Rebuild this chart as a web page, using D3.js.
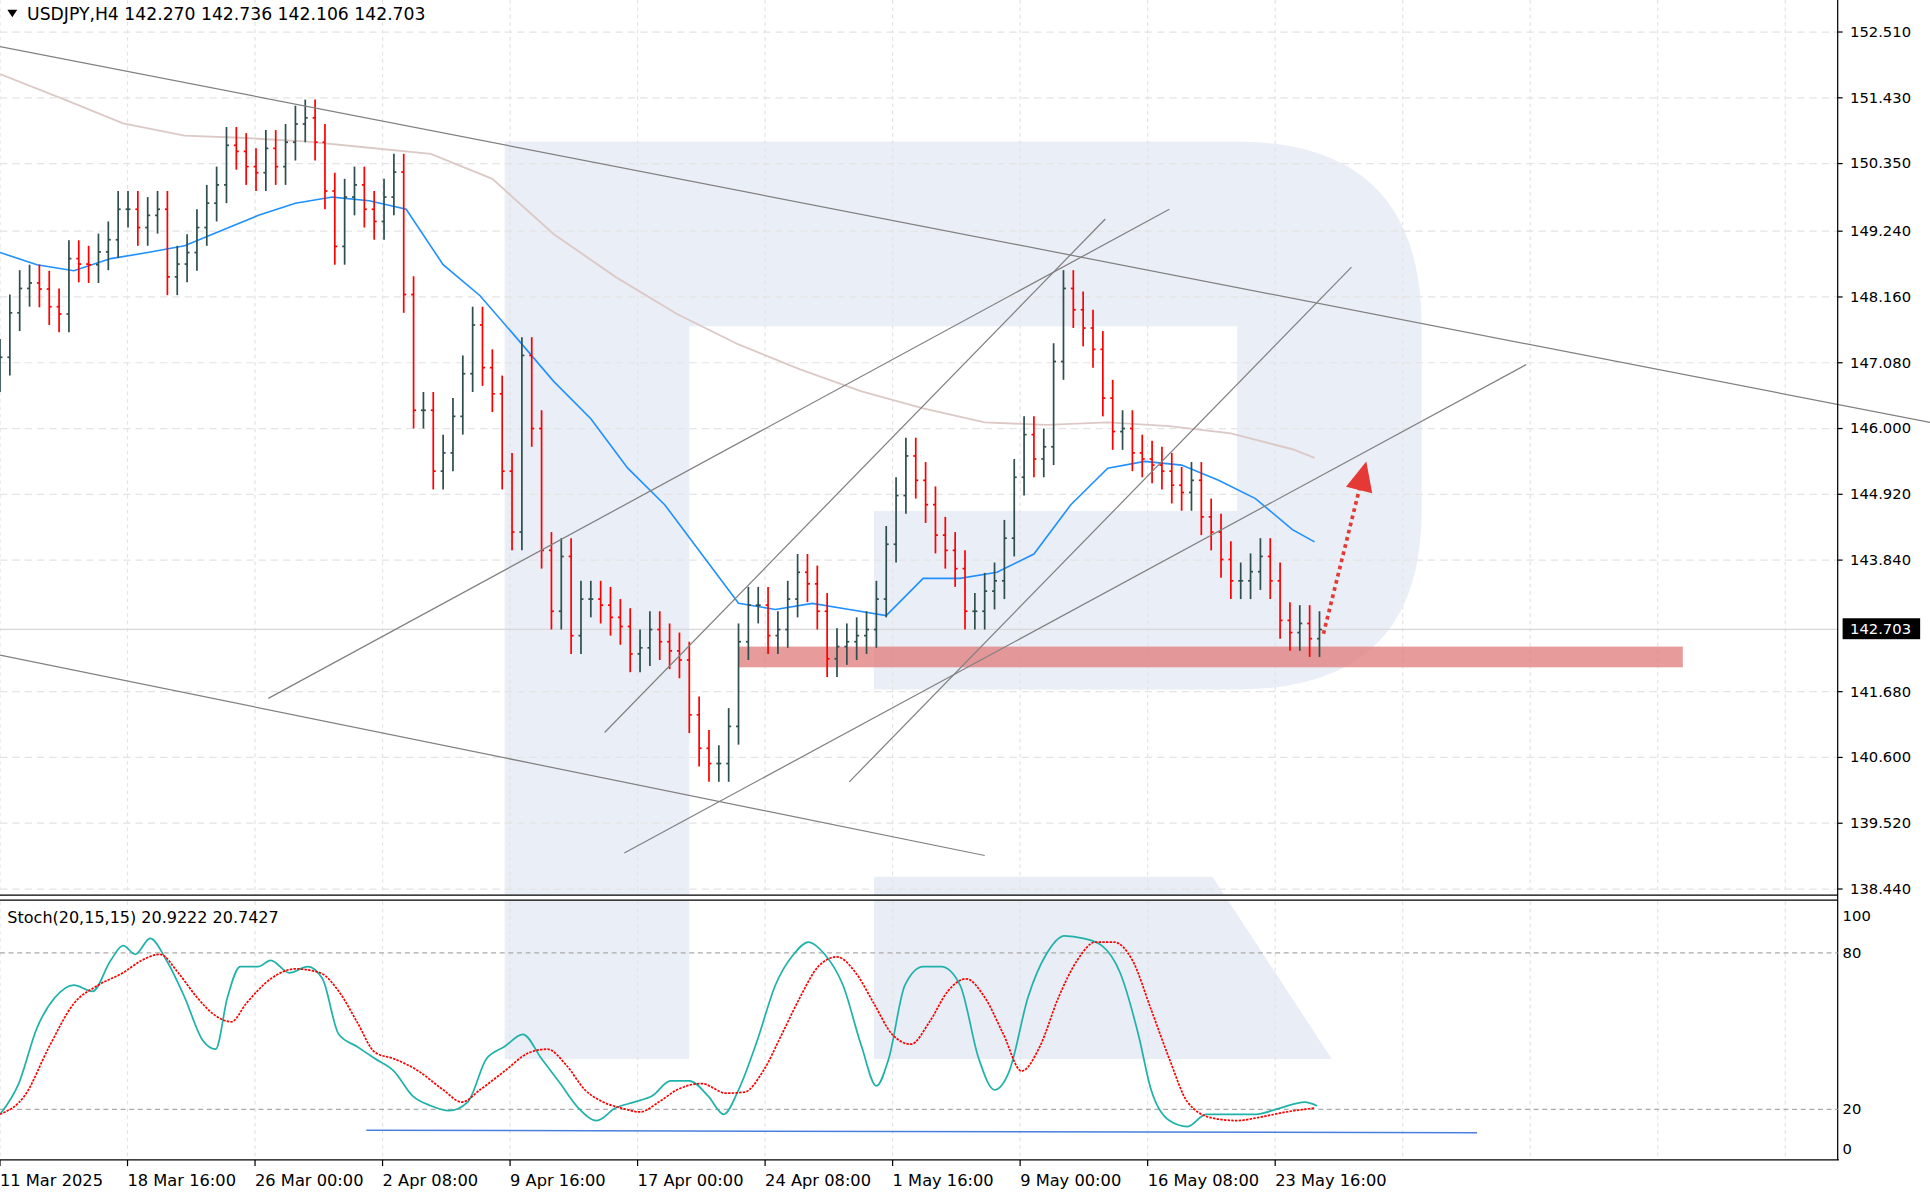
<!DOCTYPE html>
<html><head><meta charset="utf-8">
<script src="https://cdn.jsdelivr.net/npm/d3@7"></script>
<style>body{margin:0;background:#fff}svg{display:block}text{font-family:"DejaVu Sans",Tahoma,sans-serif}</style>
</head><body><div id="c"></div>
<script>
// closes of the H4 bars (one per 8px)
const closes = [147.17,147.9,148.3,148.39,148.29,148.0,147.88,148.79,148.7,148.69,148.9,149.1,149.6,149.6,149.3,149.5,149.6,148.49,148.7,148.89,
149.3,149.7,150.0,150.65,150.55,150.3,150.2,150.6,150.3,150.7,151.0,151.1,150.7,149.9,148.99,149.8,150.0,149.6,149.4,149.8,
150.21,148.2,146.3,146.3,145.3,145.6,146.2,146.9,147.7,147.0,146.57,145.3,144.3,147.2,146.0,144.0,143.0,143.9,142.6,143.2,
143.2,143.1,142.9,142.75,142.3,142.4,142.7,142.5,142.35,142.2,141.3,140.75,140.5,140.5,141.11,142.5,143.1,143.1,142.6,142.7,
143.2,143.64,143.45,143.0,142.22,142.42,142.5,142.6,142.7,143.2,144.1,144.9,145.55,145.15,144.75,144.25,144.0,143.7,143.0,143.0,
143.33,143.5,144.2,145.2,145.9,145.5,145.7,147.1,148.3,147.95,147.65,147.3,146.5,145.95,146.0,145.6,145.5,145.4,145.3,145.07,
144.95,145.15,144.55,144.3,143.85,143.5,143.5,143.65,143.9,143.5,142.85,142.65,142.8,142.55,142.70];
const firstOpen = 146.9;
// moving averages [bar, price]
const ma50 = [[0,148.89],[3.75,148.69],[7.5,148.59],[11.25,148.79],[15,148.89],[18.75,149.0],[22.5,149.25],[26.25,149.5],[30,149.7],[33.75,149.8],
[37.5,149.74],[41.25,149.6],[45,148.69],[48.75,148.18],[52.5,147.48],[56.25,146.77],[60,146.16],[63.75,145.35],[67.5,144.75],[71.25,143.94],
[75,143.13],[78.75,143.03],[82.5,143.13],[86.25,143.03],[90,142.93],[93.75,143.54],[97.5,143.54],[101.25,143.64],[105,143.94],[108.75,144.75],
[112.5,145.35],[116.25,145.46],[120,145.4],[123.75,145.15],[127.5,144.85],[131.25,144.34],[133.5,144.14]];
const ma200 = [[0,151.82],[6.25,151.42],[12.5,151.01],[18.75,150.81],[25,150.77],[31.25,150.71],[37.5,150.61],[43.75,150.51],[50,150.1],[56.25,149.19],
[62.5,148.49],[68.75,147.88],[75,147.38],[81.25,146.97],[87.5,146.61],[93.75,146.33],[100,146.1],[106.25,146.06],[112.5,146.1],[118.75,146.04],
[125,145.92],[131.25,145.66],[133.5,145.52]];
// stochastic %K and %D [bar, value]
const stochK = [[0,18.1],[1.9,29.9],[3.75,51.2],[5.6,63],[7.5,67.7],[9.4,65.3],[11.25,77.2],[12.5,82.8],[13.75,79.5],[15.25,85.6],[16.9,77.2],[18.75,63],
[20.6,46.4],[21.9,43.1],[23.1,63],[24.4,74.8],[26.25,74.8],[27.5,77.2],[29.4,72.4],[31.25,74.8],[32.75,70.1],[34.4,48.8],[36.25,44.1],[38.1,39.4],
[40,34.7],[41.9,25.2],[43.75,21.4],[45.6,19.5],[47.5,22.8],[49.4,39.4],[51.25,44.1],[53.1,48.8],[55,39.4],[56.9,29.9],[58.75,20.5],[60.6,15.7],
[62.5,20.5],[64.4,22.8],[66.25,25.2],[68.1,30.9],[70,30.9],[71.9,25.2],[73.5,18.1],[75,27.5],[76.9,46.4],[78.75,67.7],[80.6,79.5],[82.1,84.2],
[83.75,79.5],[85.6,67.7],[87.5,44.1],[89,29],[90.25,39.4],[91.9,67.7],[93.75,74.8],[95.6,74.8],[97.5,67.7],[99.4,39.4],[101,27.5],[102.5,34.7],
[104.4,63],[106.25,79.5],[108.1,86.6],[110,85.6],[111.9,82.8],[113.75,72.4],[115.6,48.8],[116.9,27.5],[118.75,15.7],[120.6,13.4],[122.5,18.1],
[125,18.1],[127.5,18.1],[130,20.5],[132.5,22.8],[133.75,21.4]];
const stochD = [[0,18.1],[2.5,25.2],[5,44.1],[7.5,60.6],[10,67.7],[12.5,72.4],[14.4,77.2],[16.25,79.5],[18.1,72.4],[20,63],[21.9,55.9],[23.5,53.6],
[25,60.6],[27.5,70.1],[30,73.9],[32.5,72.4],[34.4,65.3],[36.25,53.6],[38.1,41.8],[40,39.4],[42.5,34.7],[45,27.5],[46.9,22.8],[48.75,27.5],
[51.25,34.7],[53.75,41.8],[55.6,43.1],[57.5,37],[59.4,27.5],[61.25,22.8],[63.1,20.5],[65,19],[66.9,22.8],[68.75,27.5],[71.25,29.9],[73.75,26.2],
[75.6,26.6],[77.5,34.7],[79.4,48.8],[81.25,63],[83.1,74.8],[85,78.5],[86.9,72.4],[88.75,60.6],[90.6,48.8],[92.5,45],[94.4,53.6],[96.25,65.3],
[98.1,70.1],[100,63],[101.9,48.8],[103.75,34.7],[105.6,44.1],[107.5,63],[109.4,77.2],[111.25,84.2],[113.1,84.2],[115,77.2],[116.9,58.3],
[118.75,39.4],[120.6,22.8],[123.1,16.7],[125.6,15.7],[128.1,17.1],[130.6,19],[133.5,20.5]];
const priceTicks = [152.51,151.43,150.35,149.24,148.16,147.08,146.0,144.92,143.84,141.68,140.6,139.52,138.44];
const timeLabels = ["11 Mar 2025","18 Mar 16:00","26 Mar 00:00","2 Apr 08:00","9 Apr 16:00","17 Apr 00:00","24 Apr 08:00","1 May 16:00","9 May 00:00","16 May 08:00","23 May 16:00"];
const lastPrice = 142.703;
// drawn trend lines [bar, price, bar, price]
const trendLines = [[0,152.27,196,146.10],[0,142.28,100,138.99],[27.25,141.57,118.75,149.60],[61.4,141.01,112.25,149.44],[86.25,140.20,137.25,148.65],[63.4,139.03,155,147.05]];
const zone = [75,142.42,170.9,142.08];
const arrow = [134.4,142.63,138.75,145.46];
const stochLow = [37.2,12,150,11];

const W = 1568, H = 977, axisX = 1493;
const svg = d3.select('#c').append('svg').attr('width',1930).attr('height',1203)
  .attr('viewBox','0 0 '+W+' '+H).attr('preserveAspectRatio','none');
const x = d3.scaleLinear().domain([0,134]).range([0,1072]);
const y = d3.scaleLinear().domain([138.44,152.51]).range([722,26]);
const ys = d3.scaleLinear().domain([0,100]).range([943.3,731.6]);

// watermark
const wm = svg.append('g').attr('fill','#e6ebf4').attr('opacity',0.85);
wm.append('path').attr('d','M410,115 L1005,115 Q1155,115 1155,265 L1155,415 Q1155,560 1005,560 L710,560 L710,415 L1005,415 L1005,265 L560,265 L560,860 L410,860 Z');
wm.append('path').attr('d','M710,712 L985,712 L1082,860 L710,860 Z');

// grid
const gridX = d3.range(0,15).map(i => i*12.95);
svg.append('g').selectAll('line').data(gridX).enter().append('line')
  .attr('x1',d=>x(d)).attr('x2',d=>x(d)).attr('y1',0).attr('y2',942)
  .attr('stroke','#e4e4e4').attr('stroke-dasharray','3,3');
svg.append('g').selectAll('line').data(priceTicks).enter().append('line')
  .attr('x1',0).attr('x2',axisX).attr('y1',d=>y(d)).attr('y2',d=>y(d))
  .attr('stroke','#e4e4e4').attr('stroke-dasharray','6,4');

// zone
svg.append('rect').attr('x',x(zone[0])).attr('y',y(zone[1])).attr('width',x(zone[2])-x(zone[0]))
  .attr('height',y(zone[3])-y(zone[1])).attr('fill','#e07a7a').attr('opacity',0.75);

// moving averages
const ln = d3.line().x(d=>x(d[0])).y(d=>y(d[1]));
svg.append('path').attr('d',ln(ma200)).attr('fill','none').attr('stroke','#dcc9c6').attr('stroke-width',1.5);
svg.append('path').attr('d',ln(ma50)).attr('fill','none').attr('stroke','#1e90ff').attr('stroke-width',1.3);

// price line
svg.append('line').attr('x1',0).attr('x2',axisX).attr('y1',y(lastPrice)).attr('y2',y(lastPrice)).attr('stroke','#d8d8d8');

// bars
const bars = closes.map((c,i) => {
  const o = i ? closes[i-1] : firstOpen;
  return {i:i, o:o, c:c, h:Math.max(o,c)+0.3, l:Math.min(o,c)-0.3};
});
const bg = svg.append('g').selectAll('g').data(bars).enter().append('g')
  .attr('stroke',d=>d.c>=d.o ? '#2f4f4f' : '#ff0000').attr('stroke-width',1.4);
bg.append('line').attr('x1',d=>x(d.i)).attr('x2',d=>x(d.i)).attr('y1',d=>y(d.h)).attr('y2',d=>y(d.l));
bg.append('line').attr('x1',d=>x(d.i)-2).attr('x2',d=>x(d.i)).attr('y1',d=>y(d.o)).attr('y2',d=>y(d.o));
bg.append('line').attr('x1',d=>x(d.i)).attr('x2',d=>x(d.i)+2).attr('y1',d=>y(d.c)).attr('y2',d=>y(d.c));

// trend lines
svg.append('g').selectAll('line').data(trendLines).enter().append('line')
  .attr('x1',d=>x(d[0])).attr('y1',d=>y(d[1])).attr('x2',d=>x(d[2])).attr('y2',d=>y(d[3]))
  .attr('stroke','#808080').attr('stroke-width',1);

// arrow
const ax1=x(arrow[0]), ay1=y(arrow[1]), ax2=x(arrow[2]), ay2=y(arrow[3]);
const ang = Math.atan2(ay2-ay1, ax2-ax1);
svg.append('line').attr('x1',ax1).attr('y1',ay1).attr('x2',ax2-16*Math.cos(ang)).attr('y2',ay2-16*Math.sin(ang))
  .attr('stroke','#e53935').attr('stroke-width',3).attr('stroke-dasharray','3,3');
const hx = ax2, hy = ay2, bx = ax2-24*Math.cos(ang), by = ay2-24*Math.sin(ang);
const px = -Math.sin(ang)*11, py = Math.cos(ang)*11;
svg.append('path').attr('d','M'+hx+','+hy+'L'+(bx+px)+','+(by+py)+'L'+(bx-px)+','+(by-py)+'Z').attr('fill','#e53935');

// panels border
svg.append('rect').attr('x',0).attr('y',727).attr('width',W).attr('height',4).attr('fill','#fff');
svg.append('line').attr('x1',0).attr('x2',axisX).attr('y1',727).attr('y2',727).attr('stroke','#000');
svg.append('line').attr('x1',0).attr('x2',axisX).attr('y1',731).attr('y2',731).attr('stroke','#000');
svg.append('line').attr('x1',0).attr('x2',axisX+1).attr('y1',942).attr('y2',942).attr('stroke','#000');
svg.append('line').attr('x1',axisX).attr('x2',axisX).attr('y1',0).attr('y2',942).attr('stroke','#000');

// price axis
const pa = svg.append('g');
pa.selectAll('text').data(priceTicks).enter().append('text')
  .attr('x',1503).attr('y',d=>y(d)+4).attr('font-size',12).text(d=>d.toFixed(3));
pa.selectAll('line').data(priceTicks).enter().append('line')
  .attr('x1',axisX).attr('x2',axisX+4).attr('y1',d=>y(d)).attr('y2',d=>y(d)).attr('stroke','#000');
svg.append('rect').attr('x',1497).attr('y',y(lastPrice)-9).attr('width',63).attr('height',17).attr('fill','#000');
svg.append('text').attr('x',1503).attr('y',y(lastPrice)+4).attr('font-size',12).attr('fill','#fff').text(lastPrice.toFixed(3));

// stochastic
[20,80].forEach(v => svg.append('line').attr('x1',0).attr('x2',axisX).attr('y1',ys(v)).attr('y2',ys(v))
  .attr('stroke','#aaa').attr('stroke-dasharray','4,3'));
const sl = d3.line().x(d=>x(d[0])).y(d=>ys(d[1])).curve(d3.curveMonotoneX);
svg.append('path').attr('d',sl(stochK)).attr('fill','none').attr('stroke','#20b2aa').attr('stroke-width',1.4);
svg.append('path').attr('d',sl(stochD)).attr('fill','none').attr('stroke','#ff0000').attr('stroke-width',1.4).attr('stroke-dasharray','2,1');
svg.append('line').attr('x1',x(stochLow[0])).attr('y1',ys(stochLow[1])).attr('x2',x(stochLow[2])).attr('y2',ys(stochLow[3]))
  .attr('stroke','#4a7fe0').attr('stroke-width',1.2);
[100,80,20,0].forEach(v => svg.append('text').attr('x',1497).attr('y',ys(v)+ (v===100?16:v===0?-6:4))
  .attr('font-size',12).text(v));
svg.append('text').attr('x',6).attr('y',750).attr('font-size',13).text('Stoch(20,15,15) 20.9222 20.7427');

// time axis
svg.append('g').selectAll('text').data(timeLabels).enter().append('text')
  .attr('x',(d,i)=>x(i*12.95)).attr('y',963).attr('font-size',13.2).text(d=>d);
svg.append('g').selectAll('line').data(timeLabels).enter().append('line')
  .attr('x1',(d,i)=>x(i*12.95)).attr('x2',(d,i)=>x(i*12.95)).attr('y1',942).attr('y2',947).attr('stroke','#000');

// header
svg.append('path').attr('d','M6,8 L14,8 L10,14 Z').attr('fill','#000');
svg.append('text').attr('x',22).attr('y',16).attr('font-size',14).text('USDJPY,H4  142.270 142.736 142.106 142.703');
</script></body></html>
